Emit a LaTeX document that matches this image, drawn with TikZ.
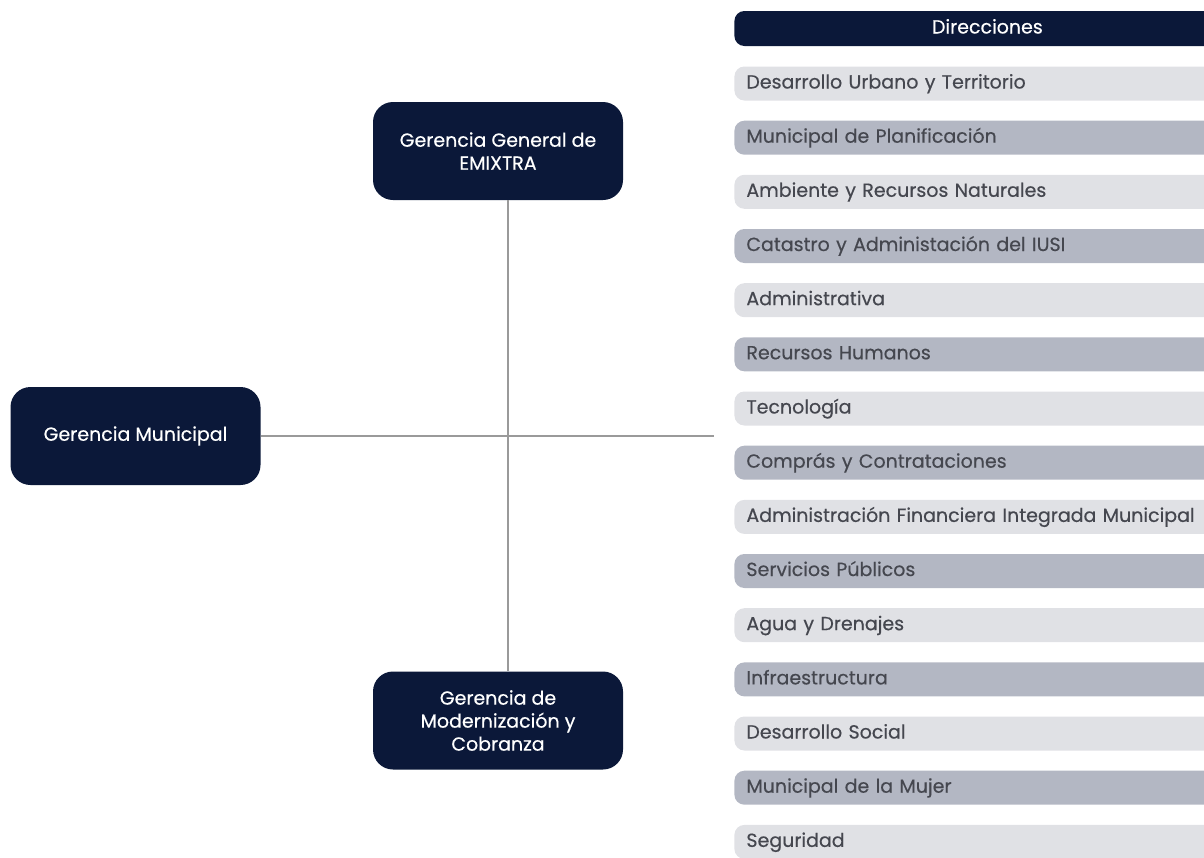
\documentclass[tikz,border=0pt]{standalone}
\usepackage{fontspec}
\setmainfont{Poppins}[FakeBold=0.4]
\usepackage{tikz}
\usetikzlibrary{positioning}
\definecolor{navy}{HTML}{0B1839}
\definecolor{rowlight}{HTML}{E0E1E5}
\definecolor{rowdark}{HTML}{B3B7C3}
\definecolor{rowtext}{HTML}{45474F}
\definecolor{linkgray}{HTML}{9A9A9A}
\tikzstyle{link}=[draw=linkgray, line width=1pt]
\tikzset{
    gerencia/.style={fill=navy, text=white, rounded corners=10pt,
        minimum width=125pt, minimum height=49pt, align=center,
        font=\fontsize{9.5}{11.5}\selectfont},
    direccion/.style={rounded corners=5pt, minimum height=17pt,
        text width=241pt, inner xsep=6pt, inner ysep=0pt,
        text height=7pt, text depth=2pt, anchor=west,
        font=\fontsize{9.5}{11}\selectfont},
    rowa/.style={direccion, fill=rowlight, text=rowtext, align=left},
    rowb/.style={direccion, fill=rowdark, text=rowtext, align=left},
    encabezado/.style={direccion, fill=navy, text=white, align=center,
        minimum height=17.5pt}
}

\begin{document}
\begin{tikzpicture}[x=0.5pt, y=-0.5pt]
  \useasboundingbox (0,0) rectangle (1204,857);
  \clip (0,0) rectangle (1204,857);

  % gerencias
  \node [gerencia] (emx) at (498,151) {Gerencia General de\\EMIXTRA};
  \node [gerencia] (mun) at (135.5,436) {Gerencia Municipal};
  \node [gerencia] (mod) at (498,720.5) {Gerencia de\\Modernizaci\'on y\\Cobranza};

  % direcciones
  \node [encabezado] (dir) at (734,28.5) {Direcciones};
  \node [rowa] (d1) at (734,83.5) {Desarrollo Urbano y Territorio};
  \node [rowb] (d2) at (734,137.7) {Municipal de Planificaci\'on};
  \node [rowa] (d3) at (734,191.8) {Ambiente y Recursos Naturales};
  \node [rowb] (d4) at (734,246) {Catastro y Administaci\'on del IUSI};
  \node [rowa] (d5) at (734,300.2) {Administrativa};
  \node [rowb] (d6) at (734,354.3) {Recursos Humanos};
  \node [rowa] (d7) at (734,408.5) {Tecnolog\'ia};
  \node [rowb] (d8) at (734,462.7) {Compr\'as y Contrataciones};
  \node [rowa] (d9) at (734,516.9) {Administraci\'on Financiera Integrada Municipal};
  \node [rowb] (d10) at (734,571) {Servicios P\'ublicos};
  \node [rowa] (d11) at (734,625.2) {Agua y Drenajes};
  \node [rowb] (d12) at (734,679.4) {Infraestructura};
  \node [rowa] (d13) at (734,733.5) {Desarrollo Social};
  \node [rowb] (d14) at (734,787.7) {Municipal de la Mujer};
  \node [rowa] (d15) at (734,841.9) {Seguridad};

  \coordinate (jt) at (508,436);
  \coordinate (fin) at (714,436);

  \draw [link] (jt |- emx.south) -- (jt |- mod.north);
  \draw [link] (mun.east) -- (fin);
\end{tikzpicture}
\end{document}
